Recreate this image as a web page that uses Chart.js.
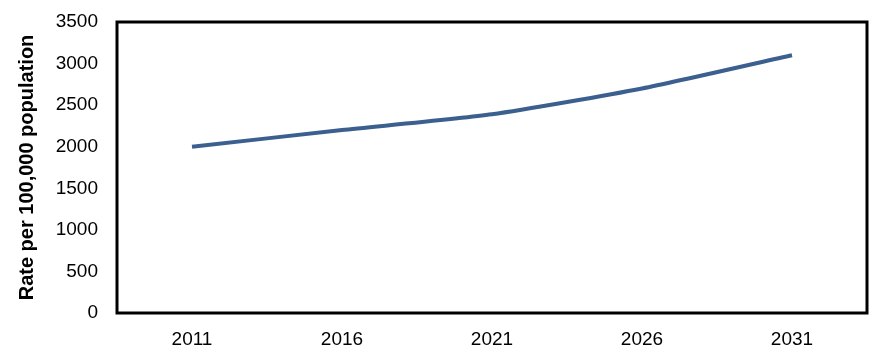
<!DOCTYPE html>
<html>
<head>
<meta charset="utf-8">
<script src="https://cdn.jsdelivr.net/npm/chart.js@4/dist/chart.umd.min.js"></script>
<style>
  html, body { margin: 0; padding: 0; background: #fff; }
  #wrap { width: 890px; height: 363px; }
</style>
</head>
<body>
<div id="wrap"><canvas id="rateChart" width="890" height="363"></canvas></div>
<script>
const years = ['2011', '2016', '2021', '2026', '2031'];
const rates = [2000, 2200, 2390, 2700, 3100];
const yTicks = [0, 500, 1000, 1500, 2000, 2500, 3000, 3500];

// box round the plot area, like the Excel chart frame
const plotFrame = {
    id: 'plotFrame',
    afterDraw(chart) {
        const { ctx, chartArea: a } = chart;
        ctx.save();
        ctx.strokeStyle = '#000';
        ctx.lineWidth = 3;
        ctx.strokeRect(a.left, a.top, a.right - a.left, a.bottom - a.top);
        ctx.restore();
    }
};

const ctx = document.getElementById('rateChart').getContext('2d');
new Chart(ctx, {
    type: 'line',
    data: {
        labels: years,
        datasets: [{
            data: rates,
            borderColor: '#3b5f8e',
            borderWidth: 4,
            pointRadius: 0,
            tension: 0.2,
            fill: false
        }]
    },
    options: {
        responsive: false,
        animation: false,
        layout: { padding: { top: 22, right: 23, left: 0, bottom: 0 } },
        plugins: { legend: { display: false }, tooltip: { enabled: false } },
        scales: {
            x: {
                offset: true,
                grid: { display: false, drawTicks: false },
                border: { display: false },
                ticks: { color: '#000', font: { family: 'Liberation Sans', size: 19 }, padding: 15 },
                afterFit: s => { s.height = 50; }
            },
            y: {
                min: 0,
                max: 3500,
                afterBuildTicks: s => { s.ticks = yTicks.map(v => ({ value: v })); },
                grid: { display: false, drawTicks: false },
                border: { display: false },
                ticks: {
                    color: '#000',
                    font: { family: 'Liberation Sans', size: 19 },
                    padding: 19,
                    callback: v => String(v)
                },
                title: {
                    display: true,
                    text: 'Rate per 100,000 population',
                    color: '#000',
                    font: { family: 'Liberation Sans', size: 20, weight: 'bold' },
                    padding: { top: 15, bottom: 0 }
                },
                afterFit: s => { s.width = 117; s.paddingTop = 0; s.paddingBottom = 0; }
            }
        }
    },
    plugins: [plotFrame]
});
</script>
</body>
</html>
